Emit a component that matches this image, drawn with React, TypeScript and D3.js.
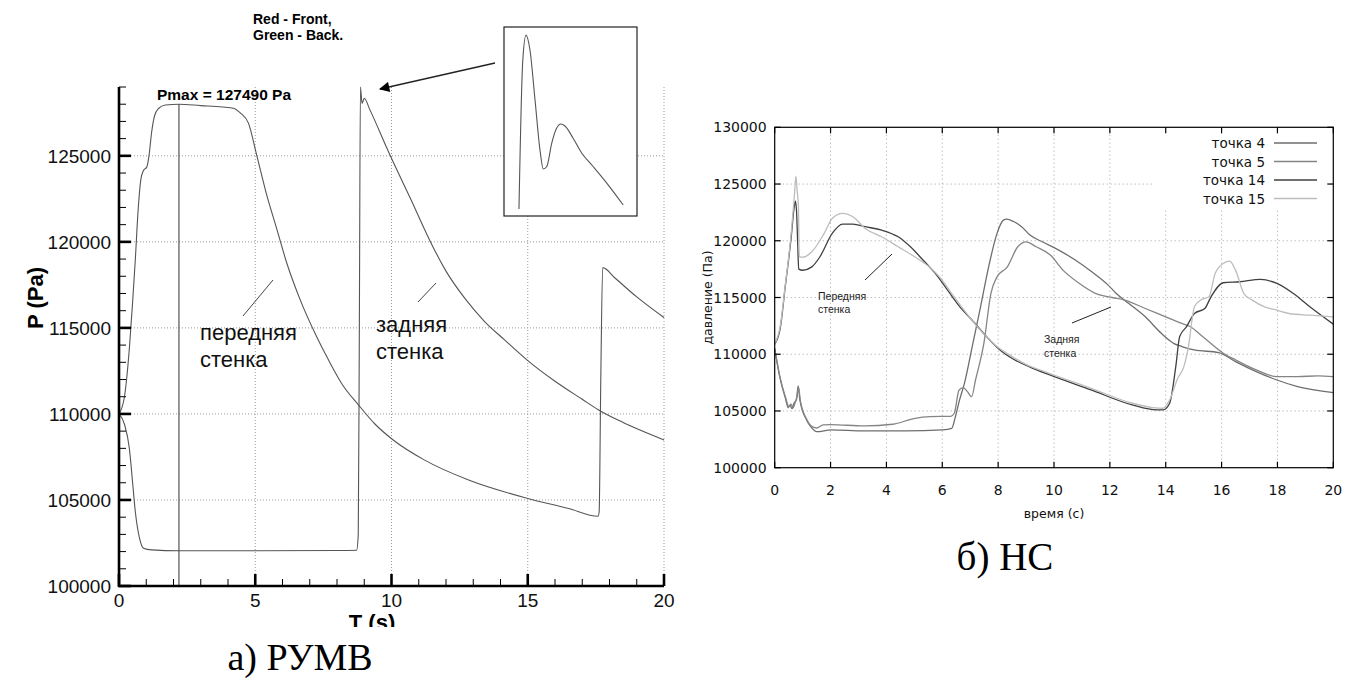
import React from "react";
import * as d3 from "d3";

// ---------- data: left chart (РУМВ) ----------
const leftFront: [number, number][] = [
  [0, 110000], [0.2, 111000], [0.38, 113800], [0.5, 116500], [0.6, 119000], [0.7, 121800],
  [0.8, 123600], [0.9, 124150], [1.02, 124350], [1.1, 125000], [1.2, 126400], [1.3, 127300],
  [1.45, 127750], [1.7, 127950], [2.2, 128000], [3.0, 127920], [3.8, 127840], [4.2, 127770],
  [4.45, 127500], [4.75, 126900], [5.05, 125060], [5.4, 122850], [5.8, 120700], [6.15, 118800],
  [6.65, 116630], [7.25, 114500], [7.7, 113100], [8.2, 111700], [8.8, 110500], [9.4, 109400],
  [10.05, 108500], [11.2, 107330], [12.83, 106160], [14.97, 105100], [16.5, 104500],
  [17.58, 104050], [17.62, 104300], [17.68, 112000], [17.75, 118500], [18.2, 117900],
  [19.0, 116800], [20, 115600],
];
const leftBack: [number, number][] = [
  [0, 110000], [0.2, 109400], [0.38, 108000], [0.5, 106000], [0.6, 104300], [0.75, 102800],
  [0.9, 102200], [1.2, 102100], [2.2, 102050], [5, 102050], [8.0, 102060], [8.72, 102080],
  [8.78, 103000], [8.82, 115000], [8.86, 129000], [8.92, 128050], [9.0, 128350], [9.2, 127700],
  [9.94, 125060], [10.7, 122500], [11.4, 120100], [12.0, 118300], [12.7, 116700], [13.4, 115400],
  [14.15, 114300], [15.0, 113100], [16.0, 111900], [17.0, 110850], [17.6, 110230], [18.5, 109500],
  [20, 108490],
];
const pmaxTime = 2.2;
const pmaxPlotted = 128000;
// inset: zoom of the back-wall peak, time in ms after the jump
const insetCurve: [number, number][] = [
  [2.7, 128000], [6.1, 128921], [9.1, 129087], [12.7, 128994], [17.3, 128681], [21.8, 128369],
  [24.8, 128250], [27.9, 128264], [32.5, 128412], [37.0, 128506], [40.9, 128531], [44.5, 128519],
  [51.8, 128444], [59.7, 128350], [70.3, 128264], [82.5, 128162], [97.5, 128025],
];
const leftXTicks = [0, 5, 10, 15, 20];
const leftYTicks = [100000, 105000, 110000, 115000, 120000, 125000];

// ---------- data: right chart (НС) ----------
const p4: [number, number][] = [
  [0, 110500], [0.18, 108030], [0.4, 105970], [0.48, 105300], [0.55, 105500], [0.62, 105200],
  [0.69, 105680], [0.78, 106000], [0.84, 107200], [0.9, 106000], [1.14, 104210], [1.29, 103620],
  [1.51, 103180], [2.02, 103330], [3.2, 103240], [4.68, 103240], [6.01, 103330], [6.34, 103470],
  [6.45, 104300], [6.6, 105800], [6.8, 107500], [7.07, 110650], [7.37, 114180], [7.66, 117700],
  [7.96, 120650], [8.18, 121800], [8.3, 121900], [8.55, 121700], [8.84, 121240], [9.14, 120500],
  [9.58, 119910], [10.17, 119180], [10.76, 118300], [11.35, 117270], [11.94, 116090],
  [12.23, 115350], [12.68, 114470], [13.27, 113300], [13.85, 111820], [14.3, 110940],
  [14.58, 110680], [15.02, 110380], [15.9, 110150], [16.5, 109350], [17.24, 108470],
  [17.98, 107730], [18.72, 107150], [20, 106620],
];
const p5: [number, number][] = [
  [0, 110500], [0.18, 108100], [0.4, 106100], [0.5, 105400], [0.58, 105600], [0.66, 105300],
  [0.74, 105800], [0.8, 106300], [0.85, 107100], [0.92, 105900], [1.14, 104300], [1.3, 103700],
  [1.5, 103500], [1.73, 103770], [2.02, 103800], [3.2, 103680], [4.23, 103830], [4.98, 104330],
  [5.57, 104500], [6.3, 104530], [6.43, 104800], [6.6, 106850], [6.75, 107060], [6.9, 106700],
  [7.05, 106260], [7.19, 107730], [7.49, 110970], [7.74, 115350], [7.96, 116820], [8.33, 117700],
  [8.7, 119470], [9.0, 119910], [9.36, 119470], [9.87, 118740], [10.32, 117410], [10.91, 116240],
  [11.5, 115350], [12.08, 115000], [12.53, 114770], [13.27, 114030], [14.0, 113300],
  [14.6, 112700], [14.87, 112440], [15.32, 111560], [16.06, 110090], [16.5, 109500],
  [17.24, 108620], [17.98, 108030], [18.72, 108030], [19.45, 108090], [20, 108030],
];
const p14: [number, number][] = [
  [0, 110900], [0.2, 112300], [0.37, 115800], [0.59, 120300], [0.7, 123000], [0.74, 123500],
  [0.78, 122700], [0.82, 120000], [0.86, 117500], [1.0, 117400], [1.33, 117700], [1.62, 118590],
  [2.06, 120650], [2.43, 121470], [2.8, 121470], [3.24, 121240], [3.83, 120940], [4.42, 120350],
  [4.86, 119470], [5.31, 118300], [5.75, 117120], [6.19, 115650], [6.63, 114180], [7.07, 113000],
  [7.64, 111400], [8.1, 110300], [8.52, 109600], [9.2, 108800], [9.85, 108180], [11.33, 106850],
  [12.8, 105530], [13.69, 105090], [13.9, 105090], [14.14, 105680], [14.36, 108910],
  [14.5, 111560], [14.74, 112410], [15.03, 113590], [15.4, 114030], [15.62, 115060],
  [16.06, 116300], [16.65, 116390], [17.39, 116590], [17.98, 116240], [18.57, 115350],
  [19.16, 114180], [20, 112650],
];
const p15: [number, number][] = [
  [0, 110900], [0.2, 112500], [0.37, 115900], [0.59, 120650], [0.7, 123800], [0.76, 125700],
  [0.8, 124500], [0.85, 123000], [0.88, 118600], [1.0, 118550], [1.33, 119030], [1.77, 120650],
  [2.06, 121970], [2.43, 122410], [2.8, 122120], [3.24, 121090], [3.83, 120350], [4.42, 119470],
  [5.01, 118590], [5.53, 117700], [5.9, 116820], [6.34, 115350], [6.78, 113880], [7.3, 112300],
  [7.9, 110800], [8.5, 109800], [9.0, 109100], [9.85, 108300], [11.33, 107000], [12.8, 105680],
  [13.54, 105300], [13.9, 105240], [14.14, 105970], [14.43, 107880], [14.65, 108910],
  [14.8, 110500], [15.03, 114180], [15.25, 114770], [15.55, 115060], [15.77, 117120],
  [16.06, 118000], [16.29, 118200], [16.5, 117410], [16.8, 115350], [17.1, 114770],
  [17.54, 114180], [17.98, 113880], [18.42, 113590], [19.16, 113440], [20, 113300],
];
const rightSeries = [
  { name: "точка 4", data: p4, color: "#6e6e6e" },
  { name: "точка 5", data: p5, color: "#858585" },
  { name: "точка 14", data: p14, color: "#404040" },
  { name: "точка 15", data: p15, color: "#bdbdbd" },
];
const rightXTicks = [0, 2, 4, 6, 8, 10, 12, 14, 16, 18, 20];
const rightYTicks = [100000, 105000, 110000, 115000, 120000, 125000, 130000];

export default function App() {
  // left scales
  const xL = d3.scaleLinear().domain([0, 20]).range([119, 664]);
  const yL = d3.scaleLinear().domain([100000, 129000]).range([586, 87]);
  const lineL = d3.line<[number, number]>().x((d) => xL(d[0])).y((d) => yL(d[1])).curve(d3.curveMonotoneX);
  const xIn = d3.scaleLinear().domain([0, 100]).range([516, 626]);
  const yIn = d3.scaleLinear().domain([128000, 129100]).range([209, 33]);
  const lineIn = d3.line<[number, number]>().x((d) => xIn(d[0])).y((d) => yIn(d[1])).curve(d3.curveMonotoneX);
  const minorX = d3.range(0, 21, 1).filter((v) => v % 5 !== 0);
  const minorY = d3.range(100000, 129001, 1000).filter((v) => v % 5000 !== 0);

  // right scales
  const xR = d3.scaleLinear().domain([0, 20]).range([774.7, 1333.3]);
  const yR = d3.scaleLinear().domain([100000, 130000]).range([467.7, 127.3]);
  const lineR = d3.line<[number, number]>().x((d) => xR(d[0])).y((d) => yR(d[1])).curve(d3.curveMonotoneX);

  const sans = "'Liberation Sans', Arial, sans-serif";
  const dv = "'DejaVu Sans', sans-serif";
  const narrow = "'Liberation Sans Narrow', 'Liberation Sans', sans-serif";
  const serif = "'Liberation Serif', 'Times New Roman', serif";
  const gridL = { stroke: "#9a9a9a", strokeWidth: 1, strokeDasharray: "1,2" };
  const gridR = { stroke: "#a0a0a0", strokeWidth: 1, strokeDasharray: "1,3" };

  return (
    <svg width={1346} height={680} style={{ position: "absolute", left: 0, top: 0, background: "#fff" }}>
      <defs>
        <clipPath id="clipT">
          <rect x={300} y={608} width={150} height={19} />
        </clipPath>
        <marker id="arrowHead" viewBox="0 0 10 10" refX={9} refY={5} markerWidth={10} markerHeight={8} orient="auto">
          <path d="M0,0 L10,5 L0,10 z" fill="#000" />
        </marker>
      </defs>

      {/* ===== LEFT CHART ===== */}
      {leftXTicks.filter((v) => v > 0).map((v) => (
        <line key={"glx" + v} x1={xL(v)} x2={xL(v)} y1={yL(100000)} y2={yL(129000)} {...gridL} />
      ))}
      {leftYTicks.filter((v) => v > 100000).map((v) => (
        <line key={"gly" + v} x1={xL(0)} x2={xL(20)} y1={yL(v)} y2={yL(v)} {...gridL} />
      ))}

      {/* curves */}
      <path d={lineL(leftFront) || ""} fill="none" stroke="#555" strokeWidth={1.1} />
      <path d={lineL(leftBack) || ""} fill="none" stroke="#555" strokeWidth={1.1} />
      <line x1={xL(pmaxTime)} x2={xL(pmaxTime)} y1={yL(100000)} y2={yL(pmaxPlotted)} stroke="#444" strokeWidth={1.1} />

      {/* axes */}
      <line x1={xL(0)} x2={xL(0)} y1={yL(100000) + 1} y2={yL(129000)} stroke="#000" strokeWidth={2.6} />
      <line x1={xL(0) - 1} x2={xL(20)} y1={yL(100000)} y2={yL(100000)} stroke="#000" strokeWidth={2.6} />
      {leftXTicks.map((v) => (
        <line key={"tx" + v} x1={xL(v)} x2={xL(v)} y1={yL(100000)} y2={yL(100000) - 12} stroke="#000" strokeWidth={2.6} />
      ))}
      {minorX.map((v) => (
        <line key={"mx" + v} x1={xL(v)} x2={xL(v)} y1={yL(100000)} y2={yL(100000) - 7} stroke="#000" strokeWidth={1} />
      ))}
      {leftYTicks.map((v) => (
        <line key={"ty" + v} x1={xL(0)} x2={xL(0) + 12} y1={yL(v)} y2={yL(v)} stroke="#000" strokeWidth={2.6} />
      ))}
      {minorY.map((v) => (
        <line key={"my" + v} x1={xL(0)} x2={xL(0) + 7} y1={yL(v)} y2={yL(v)} stroke="#000" strokeWidth={1} />
      ))}
      {leftXTicks.map((v) => (
        <text key={"lx" + v} x={xL(v)} y={607} textAnchor="middle" fontFamily={sans} fontSize={19} fill="#111">{v}</text>
      ))}
      {leftYTicks.map((v) => (
        <text key={"ly" + v} x={111} y={yL(v) + 7} textAnchor="end" fontFamily={sans} fontSize={19} fill="#111">{v}</text>
      ))}
      <text transform="translate(43,298) rotate(-90)" textAnchor="middle" fontFamily={sans} fontWeight="bold" fontSize={22} fill="#000">P (Pa)</text>
      <g clipPath="url(#clipT)">
        <text x={372} y={630} textAnchor="middle" fontFamily={sans} fontWeight="bold" fontSize={22} fill="#000">T (s)</text>
      </g>

      {/* annotations */}
      <text x={157} y={100} fontFamily={sans} fontWeight="bold" fontSize={15.5} fill="#000">Pmax = 127490 Pa</text>
      <text x={253} y={24} fontFamily={sans} fontWeight="bold" fontSize={14} fill="#000">Red - Front,</text>
      <text x={253} y={40} fontFamily={sans} fontWeight="bold" fontSize={14} fill="#000">Green - Back.</text>
      <text x={200} y={340} fontFamily={sans} fontSize={22} fill="#111">передняя</text>
      <text x={200} y={367} fontFamily={sans} fontSize={22} fill="#111">стенка</text>
      <line x1={243} y1={316} x2={273} y2={280} stroke="#444" strokeWidth={1} />
      <text x={376} y={332} fontFamily={sans} fontSize={22} fill="#111">задняя</text>
      <text x={376} y={359} fontFamily={sans} fontSize={22} fill="#111">стенка</text>
      <line x1={418} y1={302} x2={436} y2={283} stroke="#444" strokeWidth={1} />

      {/* inset */}
      <rect x={504} y={27} width={133} height={189} fill="#fff" stroke="#222" strokeWidth={1.2} />
      <path d={lineIn(insetCurve) || ""} fill="none" stroke="#555" strokeWidth={1.1} />
      <line x1={495} y1={63} x2={380} y2={89} stroke="#222" strokeWidth={1.3} markerEnd="url(#arrowHead)" />

      <text x={300} y={670} textAnchor="middle" fontFamily={serif} fontSize={38} fill="#000">а) РУМВ</text>

      {/* ===== RIGHT CHART ===== */}
      {rightXTicks.filter((v) => v > 0 && v < 20).map((v) => (
        <line key={"grx" + v} x1={xR(v)} x2={xR(v)} y1={yR(100000)} y2={yR(130000)} {...gridR} />
      ))}
      {rightYTicks.filter((v) => v > 100000 && v < 130000).map((v) => (
        <line key={"gry" + v} x1={xR(0)} x2={xR(20)} y1={yR(v)} y2={yR(v)} {...gridR} />
      ))}
      {/* legend background hides grid */}
      <rect x={1152} y={130} width={178} height={78} fill="#fff" />

      {rightSeries.map((s) => (
        <path key={s.name} d={lineR(s.data) || ""} fill="none" stroke={s.color} strokeWidth={1.3} />
      ))}

      <rect x={xR(0)} y={yR(130000)} width={xR(20) - xR(0)} height={yR(100000) - yR(130000)} fill="none" stroke="#000" strokeWidth={1.2} />
      {rightXTicks.map((v) => (
        <g key={"rtx" + v}>
          <line x1={xR(v)} x2={xR(v)} y1={yR(100000)} y2={yR(100000) - 6} stroke="#000" strokeWidth={1.2} />
          <line x1={xR(v)} x2={xR(v)} y1={yR(130000)} y2={yR(130000) + 6} stroke="#000" strokeWidth={1.2} />
          <text x={xR(v)} y={yR(100000) + 27} textAnchor="middle" fontFamily={dv} fontSize={14} fill="#111">{v}</text>
        </g>
      ))}
      {rightYTicks.map((v) => (
        <g key={"rty" + v}>
          <line x1={xR(0)} x2={xR(0) + 6} y1={yR(v)} y2={yR(v)} stroke="#000" strokeWidth={1.2} />
          <line x1={xR(20)} x2={xR(20) - 6} y1={yR(v)} y2={yR(v)} stroke="#000" strokeWidth={1.2} />
          <text x={xR(0) - 8} y={yR(v) + 5} textAnchor="end" fontFamily={dv} fontSize={14} fill="#111">{v}</text>
        </g>
      ))}
      <text x={(xR(0) + xR(20)) / 2} y={518} textAnchor="middle" fontFamily={dv} fontSize={12.5} fill="#111">время (с)</text>
      <text transform={`translate(712,${(yR(100000) + yR(130000)) / 2}) rotate(-90)`} textAnchor="middle" fontFamily={dv} fontSize={12.5} fill="#111">давление (Па)</text>

      {rightSeries.map((s, i) => (
        <g key={"leg" + i}>
          <text x={1265} y={148 + i * 18.5} textAnchor="end" fontFamily={dv} fontSize={13.5} fill="#111">{s.name}</text>
          <line x1={1274} x2={1317} y1={143 + i * 18.5} y2={143 + i * 18.5} stroke={s.color} strokeWidth={1.5} />
        </g>
      ))}

      <text x={818} y={300} fontFamily={narrow} fontSize={10.5} fill="#222">Передняя</text>
      <text x={818} y={313} fontFamily={narrow} fontSize={10.5} fill="#222">стенка</text>
      <line x1={865} y1={280} x2={892} y2={254} stroke="#222" strokeWidth={1} />
      <text x={1044} y={343} fontFamily={narrow} fontSize={10.5} fill="#222">Задняя</text>
      <text x={1044} y={357} fontFamily={narrow} fontSize={10.5} fill="#222">стенка</text>
      <line x1={1072} y1={323} x2={1111} y2={307} stroke="#222" strokeWidth={1} />

      <text x={1005} y={570} textAnchor="middle" fontFamily={serif} fontSize={39} fill="#000">б) НС</text>
    </svg>
  );
}
